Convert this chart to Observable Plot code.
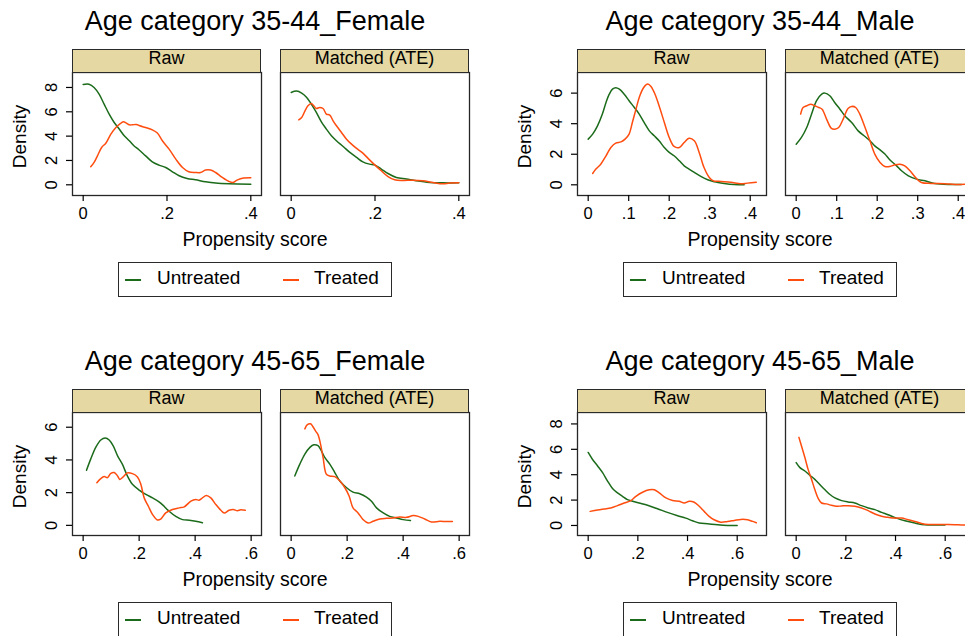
<!DOCTYPE html>
<html><head><meta charset="utf-8">
<script src="https://cdn.jsdelivr.net/npm/d3@7"></script>
<script src="https://cdn.jsdelivr.net/npm/@observablehq/plot@0.6"></script>
<style>
body{margin:0;background:#fff;}
#chart{position:relative;width:965px;height:636px;overflow:hidden;background:#fff;font-family:"Liberation Sans",Arial,sans-serif;color:#000;}
.abs{position:absolute;white-space:nowrap;}
</style></head><body><div id="chart"></div>
<script>
// ---------- labels ----------
const panelTitles = ["Age category 35-44_Female", "Age category 35-44_Male", "Age category 45-65_Female", "Age category 45-65_Male"];
const facetLabels = ["Raw", "Matched (ATE)"];
const groupLabels = ["Untreated", "Treated"];
const xAxisTitle = "Propensity score";
const yAxisTitle = "Density";
const xTicks1 = [0, 0.2, 0.4];
const xTicks2 = [0, 0.1, 0.2, 0.3, 0.4];
const xTicks3 = [0, 0.2, 0.4, 0.6];
const yTicks8 = [0, 2, 4, 6, 8];
const yTicks6 = [0, 2, 4, 6];

// ---------- data: [propensity score, density] ----------
// 35-44 Female
const f3544RawUntreated = [[0,8.25],[0.014,8.27],[0.026,8.0],[0.038,7.45],[0.05,6.63],[0.062,5.81],[0.074,5.12],[0.086,4.58],[0.098,4.03],[0.11,3.62],[0.121,3.21],[0.133,2.88],[0.149,2.38],[0.165,1.89],[0.181,1.62],[0.197,1.42],[0.213,1.07],[0.229,0.74],[0.248,0.52],[0.268,0.41],[0.292,0.25],[0.316,0.14],[0.348,0.08],[0.4,0.05]];
const f3544RawTreated = [[0.018,1.48],[0.026,1.84],[0.034,2.38],[0.044,3.07],[0.054,3.42],[0.066,4.16],[0.078,4.71],[0.087,4.99],[0.096,5.18],[0.103,5.07],[0.11,4.93],[0.117,4.93],[0.127,4.96],[0.135,4.85],[0.149,4.71],[0.165,4.52],[0.177,4.25],[0.189,3.62],[0.205,2.93],[0.221,2.11],[0.237,1.42],[0.252,1.07],[0.268,1.01],[0.28,1.01],[0.292,1.21],[0.304,1.21],[0.316,1.01],[0.332,0.6],[0.348,0.27],[0.357,0.19],[0.367,0.38],[0.383,0.55],[0.4,0.58]];
const f3544MatchedUntreated = [[0,7.59],[0.013,7.7],[0.025,7.53],[0.037,7.18],[0.048,6.63],[0.06,5.95],[0.072,5.18],[0.084,4.58],[0.096,4.03],[0.108,3.62],[0.124,3.15],[0.14,2.66],[0.156,2.25],[0.171,1.89],[0.187,1.7],[0.2,1.62],[0.215,1.29],[0.231,0.93],[0.251,0.6],[0.275,0.47],[0.298,0.33],[0.33,0.19],[0.362,0.16],[0.4,0.16]];
const f3544MatchedTreated = [[0.018,5.34],[0.025,5.53],[0.033,6.08],[0.04,6.49],[0.048,6.68],[0.054,6.49],[0.06,6.27],[0.068,6.36],[0.076,6.27],[0.084,5.81],[0.092,5.73],[0.1,5.26],[0.108,4.85],[0.12,4.3],[0.132,3.75],[0.144,3.34],[0.156,2.99],[0.171,2.6],[0.187,2.05],[0.2,1.62],[0.215,1.15],[0.231,0.68],[0.247,0.41],[0.267,0.36],[0.29,0.38],[0.314,0.33],[0.338,0.19],[0.362,0.08],[0.378,0.14],[0.4,0.16]];
// 35-44 Male
const m3544RawUntreated = [[0,2.99],[0.011,3.32],[0.023,3.86],[0.035,4.63],[0.044,5.39],[0.052,5.93],[0.06,6.26],[0.068,6.35],[0.077,6.26],[0.089,5.93],[0.101,5.5],[0.114,5.06],[0.126,4.63],[0.138,4.08],[0.151,3.53],[0.163,3.21],[0.175,2.88],[0.188,2.44],[0.2,2.12],[0.212,1.9],[0.225,1.57],[0.237,1.24],[0.249,1.03],[0.262,0.81],[0.278,0.55],[0.295,0.33],[0.311,0.2],[0.336,0.09],[0.36,0.02],[0.385,0.0]];
const m3544RawTreated = [[0.011,0.74],[0.019,1.03],[0.031,1.35],[0.044,1.9],[0.056,2.44],[0.068,2.73],[0.081,2.81],[0.091,2.99],[0.101,3.32],[0.109,4.08],[0.118,4.95],[0.126,5.72],[0.137,6.37],[0.147,6.59],[0.155,6.44],[0.165,5.93],[0.175,5.17],[0.188,4.08],[0.2,3.1],[0.212,2.51],[0.225,2.44],[0.237,2.77],[0.249,3.05],[0.262,2.88],[0.274,2.12],[0.286,1.13],[0.299,0.48],[0.309,0.26],[0.328,0.22],[0.352,0.17],[0.377,0.07],[0.393,0.11],[0.415,0.17]];
const m3544MatchedUntreated = [[0,2.66],[0.013,3.1],[0.026,3.75],[0.038,4.63],[0.05,5.5],[0.063,5.94],[0.071,6.0],[0.083,5.83],[0.095,5.39],[0.108,4.95],[0.12,4.52],[0.137,4.08],[0.153,3.53],[0.17,3.16],[0.182,2.88],[0.194,2.55],[0.207,2.29],[0.219,2.01],[0.231,1.64],[0.248,1.24],[0.26,0.92],[0.277,0.59],[0.297,0.37],[0.318,0.26],[0.342,0.09],[0.375,0.02],[0.408,0.02]];
const m3544MatchedTreated = [[0.011,4.63],[0.017,5.06],[0.026,5.17],[0.036,5.28],[0.046,5.17],[0.056,5.06],[0.064,4.95],[0.075,4.3],[0.087,3.69],[0.095,3.64],[0.105,3.75],[0.116,4.3],[0.128,5.0],[0.137,5.13],[0.147,5.06],[0.157,4.63],[0.17,3.75],[0.182,2.88],[0.194,2.01],[0.207,1.46],[0.219,1.2],[0.231,1.2],[0.244,1.31],[0.256,1.35],[0.268,1.24],[0.281,0.92],[0.297,0.41],[0.309,0.15],[0.334,0.09],[0.367,0.07],[0.392,0.02],[0.42,0.04]];
// 45-65 Female
const f4565RawUntreated = [[0.012,3.37],[0.027,4.05],[0.045,4.77],[0.063,5.22],[0.079,5.34],[0.093,5.22],[0.107,4.87],[0.123,4.25],[0.14,3.74],[0.158,3.02],[0.176,2.51],[0.2,2.16],[0.224,1.89],[0.248,1.68],[0.271,1.44],[0.289,1.17],[0.307,0.86],[0.331,0.55],[0.355,0.35],[0.379,0.31],[0.402,0.25],[0.426,0.16]];
const f4565RawTreated = [[0.049,2.61],[0.063,2.86],[0.075,2.98],[0.087,2.92],[0.099,3.18],[0.111,3.23],[0.123,3.02],[0.131,2.81],[0.143,2.96],[0.158,3.21],[0.176,3.16],[0.194,2.96],[0.206,2.51],[0.218,1.68],[0.233,1.17],[0.248,0.66],[0.265,0.33],[0.277,0.38],[0.295,0.76],[0.319,0.97],[0.343,1.07],[0.361,1.13],[0.385,1.48],[0.402,1.58],[0.414,1.54],[0.426,1.68],[0.44,1.83],[0.456,1.68],[0.474,1.27],[0.492,0.92],[0.504,0.76],[0.521,0.92],[0.536,0.97],[0.551,0.9],[0.563,0.95],[0.579,0.92]];
const f4565MatchedUntreated = [[0.013,3.02],[0.031,3.74],[0.049,4.36],[0.067,4.77],[0.081,4.93],[0.096,4.87],[0.108,4.56],[0.12,4.15],[0.138,3.74],[0.156,3.23],[0.174,2.71],[0.198,2.3],[0.221,2.03],[0.245,1.93],[0.269,1.73],[0.287,1.48],[0.305,1.07],[0.329,0.76],[0.352,0.55],[0.376,0.45],[0.4,0.35],[0.426,0.29]];
const f4565MatchedTreated = [[0.049,5.9],[0.058,6.16],[0.069,6.21],[0.079,6.0],[0.088,5.75],[0.096,5.55],[0.105,4.97],[0.114,4.15],[0.126,3.12],[0.138,3.02],[0.156,2.98],[0.174,2.71],[0.192,2.3],[0.207,1.79],[0.221,1.07],[0.239,0.76],[0.257,0.35],[0.275,0.14],[0.293,0.25],[0.317,0.39],[0.34,0.43],[0.364,0.45],[0.388,0.51],[0.412,0.49],[0.436,0.6],[0.454,0.55],[0.477,0.39],[0.501,0.21],[0.531,0.25],[0.555,0.23],[0.576,0.23]];
// 45-65 Male
const m4565RawUntreated = [[0,5.75],[0.017,5.22],[0.038,4.69],[0.058,4.16],[0.078,3.5],[0.098,2.91],[0.118,2.57],[0.138,2.3],[0.158,2.04],[0.179,1.91],[0.205,1.77],[0.239,1.59],[0.279,1.32],[0.319,1.03],[0.36,0.77],[0.393,0.58],[0.42,0.37],[0.447,0.19],[0.481,0.13],[0.521,0.05],[0.561,0.0],[0.6,0.0]];
const m4565RawTreated = [[0.008,1.11],[0.038,1.22],[0.064,1.3],[0.091,1.38],[0.118,1.56],[0.145,1.77],[0.172,1.96],[0.192,2.3],[0.219,2.62],[0.246,2.81],[0.266,2.81],[0.286,2.57],[0.313,2.17],[0.34,1.96],[0.366,1.91],[0.387,1.77],[0.407,1.91],[0.427,1.83],[0.447,1.51],[0.467,1.11],[0.487,0.72],[0.507,0.45],[0.534,0.26],[0.561,0.32],[0.588,0.4],[0.615,0.48],[0.642,0.45],[0.662,0.32],[0.677,0.21]];
const m4565MatchedUntreated = [[0,4.95],[0.015,4.56],[0.035,4.29],[0.055,3.95],[0.075,3.63],[0.095,3.23],[0.115,2.83],[0.136,2.44],[0.156,2.17],[0.183,1.96],[0.209,1.85],[0.236,1.77],[0.263,1.56],[0.29,1.38],[0.317,1.25],[0.344,1.03],[0.37,0.85],[0.404,0.58],[0.438,0.37],[0.478,0.19],[0.518,0.05],[0.558,0.03],[0.599,0.03]];
const m4565MatchedTreated = [[0.011,6.94],[0.021,6.28],[0.035,5.35],[0.048,4.42],[0.062,3.63],[0.075,2.83],[0.089,2.12],[0.102,1.77],[0.122,1.7],[0.142,1.59],[0.162,1.51],[0.183,1.54],[0.209,1.56],[0.236,1.51],[0.263,1.38],[0.29,1.17],[0.317,0.9],[0.344,0.72],[0.37,0.64],[0.397,0.58],[0.424,0.58],[0.451,0.45],[0.478,0.32],[0.505,0.16],[0.532,0.08],[0.572,0.08],[0.612,0.08],[0.652,0.05],[0.684,0.03]];

// ---------- scale setup ----------
const green = "#1b6b1b", orange = "#ff4d0f";
const panels = [
  {title: panelTitles[0], col: 0, row: 0, xDomain: [-0.0255, 0.4255], yDomain: [-0.88, 9.23], xTicks: xTicks1, yTicks: yTicks8,
   series: [[f3544RawUntreated, f3544RawTreated], [f3544MatchedUntreated, f3544MatchedTreated]]},
  {title: panelTitles[1], col: 1, row: 0, xDomain: [-0.0264, 0.4402], yDomain: [-0.70, 7.35], xTicks: xTicks2, yTicks: yTicks6,
   series: [[m3544RawUntreated, m3544RawTreated], [m3544MatchedUntreated, m3544MatchedTreated]]},
  {title: panelTitles[2], col: 0, row: 1, xDomain: [-0.038, 0.637], yDomain: [-0.62, 6.9], xTicks: xTicks3, yTicks: yTicks6,
   series: [[f4565RawUntreated, f4565RawTreated], [f4565MatchedUntreated, f4565MatchedTreated]]},
  {title: panelTitles[3], col: 1, row: 1, xDomain: [-0.043, 0.718], yDomain: [-0.79, 8.9], xTicks: xTicks3, yTicks: yTicks8,
   series: [[m4565RawUntreated, m4565RawTreated], [m4565MatchedUntreated, m4565MatchedTreated]]}
];

const fmt = d => d === 0 ? "0" : d3.format(".1f")(d).replace(/^0/, "");
const chart = document.getElementById("chart");
const FONT = '"Liberation Sans", Arial, sans-serif';

function addText(txt, left, baseline, fs, opts = {}) {
  const d = document.createElement("div");
  d.className = "abs";
  d.textContent = txt;
  d.style.fontSize = fs + "px";
  d.style.lineHeight = fs + "px";
  d.style.top = (baseline - 0.8465 * fs) + "px";
  if (opts.width != null) { d.style.width = opts.width + "px"; d.style.textAlign = "center"; }
  d.style.left = left + "px";
  chart.appendChild(d);
  return d;
}
function addBox(left, top, w, h, css) {
  const d = document.createElement("div");
  d.className = "abs";
  Object.assign(d.style, {left: left + "px", top: top + "px", width: w + "px", height: h + "px", boxSizing: "border-box"}, css);
  chart.appendChild(d);
  return d;
}

const BW = 189, BH = 123;
for (const p of panels) {
  const dx = p.col * 505, dy = p.row * 340;
  // facets
  facetLabels.forEach((fl, fi) => {
    const boxLeft = (fi === 0 ? 72 : 280) + dx, boxTop = 72 + dy;
    const ml = fi === 0 ? 70 : 10, mr = 8, mt = 2, mb = 40;
    const rows = [];
    p.series[fi].forEach((s, gi) => s.forEach(([x, y]) => rows.push({x, y, g: groupLabels[gi]})));
    const marks = [
      Plot.line(rows, {x: "x", y: "y", z: "g", stroke: "g", strokeWidth: 1.5, curve: "catmull-rom"}),
      Plot.frame({stroke: "#262626", strokeWidth: 1.3}),
      Plot.axisX(p.xTicks, {tickSize: 6, tickPadding: 5.5, tickFormat: fmt, fontSize: 16.5, label: null, strokeWidth: 1.2})
    ];
    if (fi === 0) marks.push(Plot.axisY(p.yTicks, {tickSize: 6, tickPadding: 10, tickRotate: -90, fontSize: 16.5, label: null, strokeWidth: 1.2}));
    const svg = Plot.plot({
      width: BW + ml + mr, height: BH + mt + mb,
      marginLeft: ml, marginRight: mr, marginTop: mt, marginBottom: mb,
      style: {background: "transparent", fontFamily: FONT, color: "#000", overflow: "visible"},
      x: {domain: p.xDomain},
      y: {domain: p.yDomain, axis: fi === 0 ? undefined : null},
      color: {domain: groupLabels, range: [green, orange]},
      marks
    });
    svg.style.position = "absolute";
    svg.style.left = (boxLeft - ml) + "px";
    svg.style.top = (boxTop - mt) + "px";
    chart.appendChild(svg);
    // strip
    addBox(boxLeft, 49 + dy, BW, 24, {background: "#e5d8a3", border: "1.3px solid #2a2a2a"});
    addText(fl, boxLeft, 64 + dy, 18, {width: BW});
  });
  // title
  addText(p.title, dx, 31 + dy, 27, {width: 510});
  // x axis title
  addText(xAxisTitle, dx, 247 + dy, 19.5, {width: 510});
  // y axis title (rotated)
  const yl = addText(yAxisTitle, 19 + dx - 60, 0, 19, {width: 120});
  yl.style.top = (136.5 + dy - 9.5) + "px";
  yl.style.transform = "rotate(-90deg)";
  // legend
  addBox(118 + dx, 262 + dy, 274, 35, {border: "1.4px solid #2a2a2a", background: "#fff"});
  addBox(125 + dx, 279 + dy, 16, 2, {background: green});
  addText(groupLabels[0], 157 + dx, 284 + dy, 19);
  addBox(283 + dx, 279 + dy, 16, 2, {background: orange});
  addText(groupLabels[1], 314 + dx, 284 + dy, 19);
}
</script></body></html>
